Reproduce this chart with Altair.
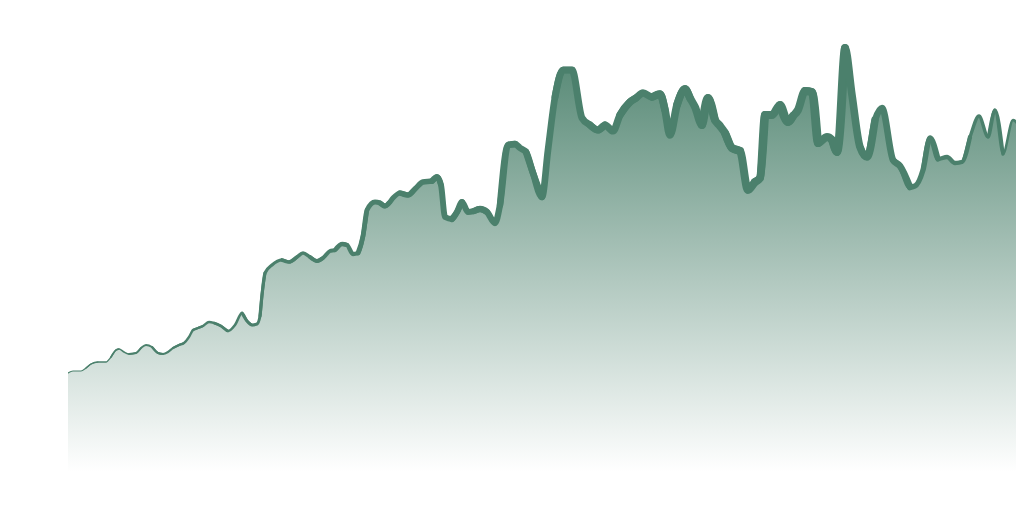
import altair as alt
import pandas as pd

# positions (horizontal position, vertical pixel of the line)
xs = [68, 73, 81, 86, 91, 98, 106, 111, 116, 119, 124, 129, 136, 141, 146, 152, 158, 163, 168, 173,
      179, 184, 189, 193, 198, 203, 209, 214, 221, 228, 235, 242, 247, 252, 257, 260, 262, 265, 272, 282,
      289, 297, 303, 310, 317, 323, 330, 335, 342, 347, 353, 358, 363, 367,
      375, 380, 385, 389, 393, 400, 408, 415, 423, 432, 437, 441, 445,
      452, 457, 462, 468, 474, 480, 487, 495, 500, 508, 515, 520, 526, 533, 542, 548, 555, 563, 572, 582,
      590, 598, 605, 613, 620, 630, 636, 643, 652, 660, 665, 670, 677, 685, 690, 695, 702, 708, 715, 720,
      725, 732, 740, 748, 755, 760, 765, 772, 780, 788, 793, 798, 805, 812, 818, 827, 832, 837, 845, 852,
      860, 867, 875, 882, 893, 900, 910, 915, 923, 930, 938, 947, 955, 962, 970, 979, 988, 995, 1003, 1013,
      1024]
ys = [373, 371, 371, 368, 364, 362, 362, 357, 350, 349, 352, 354, 353, 348, 345, 347, 353, 354, 352, 348,
      345, 343, 337, 330, 328, 326, 322, 323, 326, 331, 325, 313, 321, 325, 324, 316, 295, 273, 265, 260,
      262, 257, 253, 257, 261, 258, 251, 250, 244, 245, 254, 253, 236, 210,
      202, 203, 206, 203, 198, 193, 195, 189, 182, 181, 177, 185, 217,
      219, 212, 202, 212, 211, 209, 212, 223, 205, 145, 144, 148, 152, 173, 197, 150, 97, 70, 70, 118,
      125, 130, 125, 131, 115, 102, 98, 93, 97, 94, 110, 135, 105, 89, 98, 107, 125, 98, 120, 126,
      133, 148, 151, 190, 182, 178, 115, 115, 105, 122, 116, 110, 91, 92, 143, 137, 140, 152, 48, 95,
      147, 157, 120, 108, 160, 166, 187, 186, 170, 138, 159, 157, 163, 162, 137, 116, 137, 110, 154, 120,
      137]
weight = [1.2, 1.2, 1.3, 1.3, 1.3, 1.4, 1.4, 1.5, 1.6, 1.6, 1.7, 1.8, 1.9, 1.9, 2.0, 2.0, 2.1, 2.1, 2.2, 2.2,
          2.3, 2.3, 2.3, 2.4, 2.4, 2.5, 2.5, 2.5, 2.6, 2.7, 2.8, 2.9, 3.0, 3.0, 3.1, 3.1, 3.2, 3.3, 3.4, 3.6,
          3.7, 3.8, 3.9, 4.0, 4.0, 4.1, 4.2, 4.3, 4.4, 4.5, 4.6, 4.7, 4.8, 4.9,
          5.0, 5.0, 5.1, 5.2, 5.3, 5.4, 5.5, 5.6, 5.7, 5.8, 5.9, 6.0, 6.0,
          6.1, 6.1, 6.2, 6.2, 6.3, 6.3, 6.4, 6.4, 6.5, 6.5, 6.6, 6.6, 6.7, 6.7, 6.8, 6.8, 6.9, 7.0, 7.0, 7.1,
          7.1, 7.2, 7.2, 7.3, 7.3, 7.4, 7.4, 7.5, 7.5, 7.6, 7.6, 7.7, 7.7, 7.8, 7.8, 7.9, 7.9, 8.0, 8.0, 8.0,
          8.0, 8.0, 8.0, 8.0, 8.0, 8.0, 8.0, 8.0, 8.0, 8.0, 8.0, 8.0, 8.0, 8.0, 7.9, 7.8, 7.7, 7.6, 7.5, 7.2,
          6.9, 6.6, 6.3, 6.0, 5.6, 5.3, 5.0, 4.8, 4.5, 4.3, 4.0, 3.8, 3.6, 3.4, 3.2, 3.0, 2.7, 2.5, 2.3, 2.1,
          2.0]

df = pd.DataFrame({
    "t": [x - 68 for x in xs],
    "v": [472 - y for y in ys],
    "w": weight,
})

# short overlapping runs of points, each drawn with the stroke weight of its first point
run = 4
rows = []
n = len(xs)
for g, start in enumerate(range(0, n - 1, run)):
    idx = list(range(max(0, start - 1), min(n, start + run + 2)))
    for i in idx:
        rows.append({"t": xs[i] - 68, "v": 472 - ys[i], "w": weight[start], "g": g, "o": i})
seg = pd.DataFrame(rows)

xenc = alt.X("t:Q", axis=None, scale=alt.Scale(domain=[0, 948], nice=False, zero=False))
yenc = alt.Y("v:Q", axis=None, scale=alt.Scale(domain=[0, 450], nice=False))

area = alt.Chart(df).mark_area(
    interpolate="monotone",
    color=alt.Gradient(
        gradient="linear",
        stops=[alt.GradientStop(color="#4a806b", offset=0),
               alt.GradientStop(color="#ffffff", offset=1)],
        x1=1, x2=1, y1=0, y2=1,
    ),
    opacity=0.95,
    clip=True,
).encode(x=xenc, y=yenc)

line = alt.Chart(seg).mark_line(
    color="#4b806c", interpolate="monotone", strokeCap="round", strokeJoin="round", clip=True
).encode(
    x=xenc, y=yenc,
    detail="g:N",
    order="o:Q",
    size=alt.Size("w:Q", scale=None, legend=None),
)

chart = alt.layer(area, line).properties(
    width=948, height=450,
    autosize=alt.AutoSizeParams(type="none"),
    padding={"left": 60, "top": 14, "right": 0, "bottom": 0},
    background="white",
).configure_view(stroke=None)

chart.save("out.html", embed_options={"renderer": "svg", "actions": False})
